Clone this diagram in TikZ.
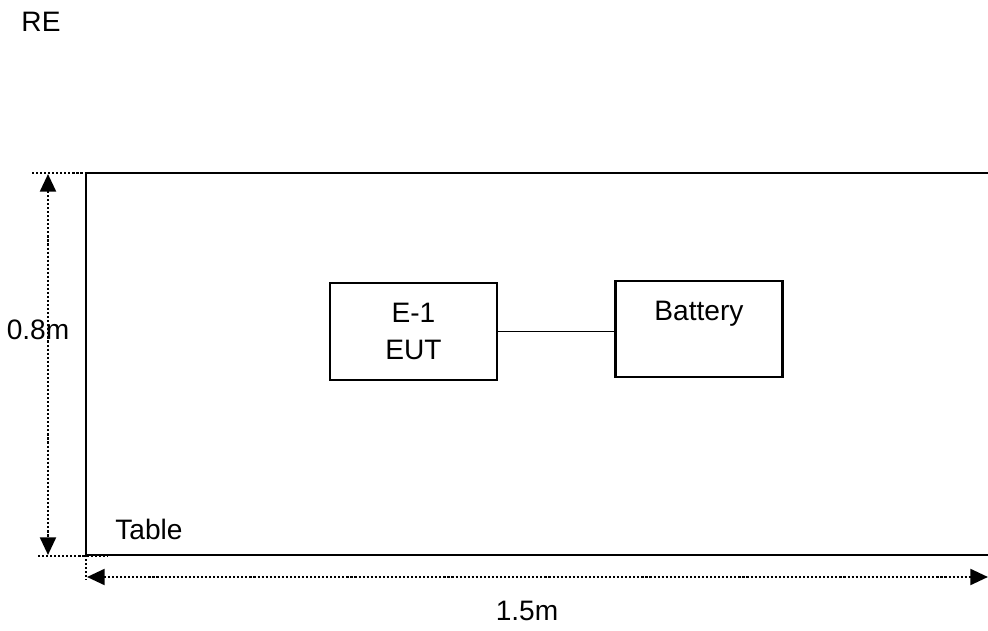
\documentclass[tikz,border=0pt]{standalone}
\usepackage{fontspec}
\setmainfont{Liberation Sans}
\usetikzlibrary{arrows.meta}
\tikzstyle{unit}=[draw, line width=1.3pt, minimum width=3.34cm, minimum height=1.93cm, inner sep=0]
\tikzstyle{txt}=[inner sep=0, font=\fontsize{16}{21}\selectfont, align=center]
\tikzstyle{dim}=[line width=1.4pt, dash pattern=on 1.2pt off 1.1pt]
\tikzstyle{tip}=[{Triangle[length=10pt,width=9pt]}-{Triangle[length=10pt,width=9pt]}]

\begin{document}
\begin{tikzpicture}[x=0.02cm, y=-0.02cm]
\useasboundingbox (0,0) rectangle (988,631);
% table outline
\coordinate (tl) at (86,173);
\coordinate (bl) at (86,555);
\coordinate (tr) at (988,173);
\coordinate (br) at (988,555);
\draw[line width=1.5pt] (tr)--(tl)--(bl)--(br);
% units
\node[unit](eut) at (413.5,331.5) {};
\node[txt] at (eut) {E-1\\EUT};
\node[unit](bat) at (699,329) {};
\node[txt](battxt) at (699,314) {Battery};
\draw[line width=0.9pt] (eut.east)--(eut.east -| bat.west);
% dimension lines
\coordinate (h1) at (32,173);
\coordinate (h2) at (100,173);
\coordinate (h3) at (38,556);
\coordinate (h4) at (108,556);
\coordinate (v1) at (86,580);
\coordinate (a1) at (48,174);
\coordinate (a2) at (48,555);
\coordinate (b1) at (87,577);
\coordinate (b2) at (988,577);
\draw[dim] (h1)--(h2);
\draw[dim] (h3)--(h4);
\draw[dim] (bl)--(v1);
\draw[dim, tip] (a1)--(a2);
\draw[dim, tip] (b1)--(b2);
% labels
\node[txt](re) at (41,22) {RE};
\node[txt](hgt) at (38,330) {0.8m};
\node[txt](tab) at (149,529) {Table};
\node[txt](wid) at (527,611) {1.5m};
\end{tikzpicture}
\end{document}
